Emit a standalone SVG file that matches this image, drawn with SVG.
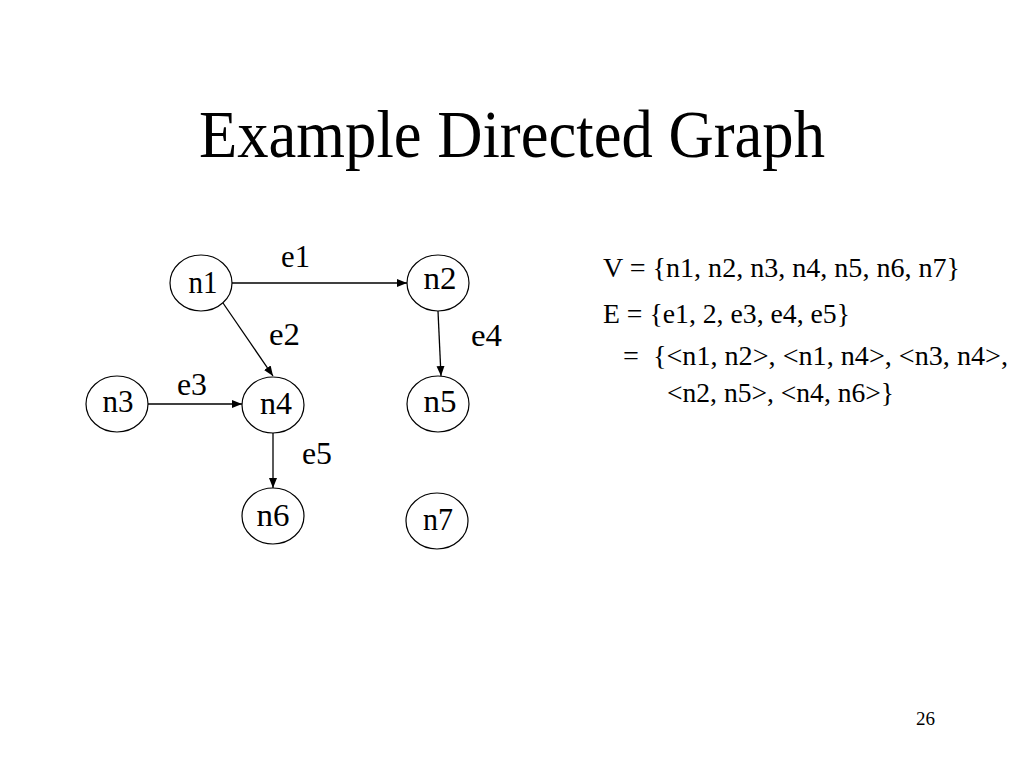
<svg xmlns="http://www.w3.org/2000/svg" width="1024" height="768" viewBox="0 0 1024 768">
<defs>
<style>
text{font-family:"Liberation Serif","Times New Roman",serif;fill:#000}
.node ellipse{fill:#fff;stroke:#000;stroke-width:1.2}
.nl{font-size:31px;text-anchor:middle}
.el{font-size:31px}
.conn line{stroke:#000;stroke-width:1.3;marker-end:url(#arr)}
.rt{font-size:27px}
</style>
<marker id="arr" markerUnits="userSpaceOnUse" markerWidth="12" markerHeight="10" refX="10" refY="4" orient="auto">
<path d="M0,0 L10,4 L0,8 Z" fill="#000"/>
</marker>
</defs>
<rect width="1024" height="768" fill="#fff"/>
<text x="199" y="157" font-size="68" textLength="626" lengthAdjust="spacingAndGlyphs">Example Directed Graph</text>
<g class="conn" id="connectors">
<line x1="232" y1="283" x2="407" y2="283"/>
<line x1="223" y1="303" x2="273" y2="376"/>
<line x1="148" y1="404" x2="242" y2="404"/>
<line x1="438" y1="311" x2="441" y2="376"/>
<line x1="273" y1="433" x2="273" y2="488"/>
</g>
<g id="edge-labels">
<text class="el" x="281" y="267" textLength="29" lengthAdjust="spacingAndGlyphs">e1</text>
<text class="el" x="269" y="345" textLength="31" lengthAdjust="spacingAndGlyphs">e2</text>
<text class="el" x="177" y="395" textLength="30" lengthAdjust="spacingAndGlyphs">e3</text>
<text class="el" x="471" y="346" textLength="31" lengthAdjust="spacingAndGlyphs">e4</text>
<text class="el" x="302" y="464" textLength="30" lengthAdjust="spacingAndGlyphs">e5</text>
</g>
<g class="node" id="n1"><ellipse cx="201" cy="283" rx="31" ry="28"/><text class="nl" x="203" y="293" textLength="29" lengthAdjust="spacingAndGlyphs">n1</text></g>
<g class="node" id="n2"><ellipse cx="438" cy="283" rx="31" ry="28"/><text class="nl" x="440" y="289" textLength="33" lengthAdjust="spacingAndGlyphs">n2</text></g>
<g class="node" id="n3"><ellipse cx="117" cy="404" rx="31" ry="28"/><text class="nl" x="118" y="412" textLength="31" lengthAdjust="spacingAndGlyphs">n3</text></g>
<g class="node" id="n4"><ellipse cx="273" cy="405" rx="31" ry="28"/><text class="nl" x="276" y="414" textLength="32" lengthAdjust="spacingAndGlyphs">n4</text></g>
<g class="node" id="n5"><ellipse cx="438" cy="404" rx="31" ry="28"/><text class="nl" x="440" y="412" textLength="33" lengthAdjust="spacingAndGlyphs">n5</text></g>
<g class="node" id="n6"><ellipse cx="273" cy="516" rx="31" ry="28"/><text class="nl" x="273" y="526" textLength="33" lengthAdjust="spacingAndGlyphs">n6</text></g>
<g class="node" id="n7"><ellipse cx="437" cy="521" rx="31" ry="28"/><text class="nl" x="438" y="530" textLength="30" lengthAdjust="spacingAndGlyphs">n7</text></g>
<g id="definitions">
<text class="rt" x="603" y="277" textLength="357" lengthAdjust="spacingAndGlyphs">V = {n1, n2, n3, n4, n5, n6, n7}</text>
<text class="rt" x="603" y="323" textLength="247" lengthAdjust="spacingAndGlyphs">E = {e1, 2, e3, e4, e5}</text>
<text class="rt" x="623" y="365" xml:space="preserve" textLength="385" lengthAdjust="spacingAndGlyphs">=  {&lt;n1, n2&gt;, &lt;n1, n4&gt;, &lt;n3, n4&gt;,</text>
<text class="rt" x="667" y="402" textLength="227" lengthAdjust="spacingAndGlyphs">&lt;n2, n5&gt;, &lt;n4, n6&gt;}</text>
</g>
<text x="916" y="725" font-size="19">26</text>
</svg>
